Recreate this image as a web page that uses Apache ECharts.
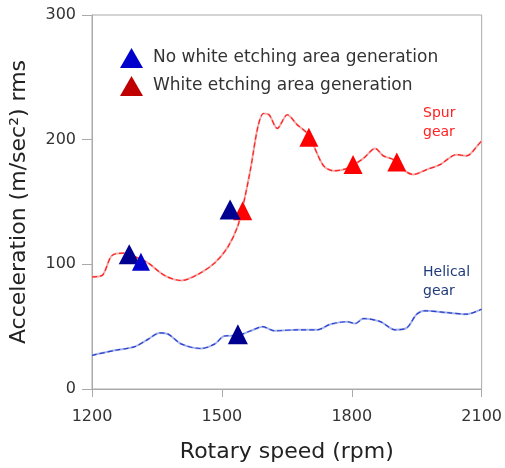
<!DOCTYPE html>
<html><head><meta charset="utf-8">
<script src="https://cdn.jsdelivr.net/npm/echarts@6/dist/echarts.min.js"></script>
<style>html,body{margin:0;padding:0;background:#fff}#c{width:505px;height:468px}</style>
</head><body><div id="c"></div>
<script>
const spurRpm = [1200,1223,1246,1276,1300,1330,1368,1407,1445,1483,1514,1537,1552,1567,1583,1596,1609,1628,1651,1674,1697,1712,1735,1758,1789,1827,1854,1873,1896,1919,1942,1973,2004,2042,2065,2095,2100];
const spurAcc = [90,91,107,109,106,101,91,87,92,101,114,131,152,178,210,221,220,209,220,212,205,195,179,175,177,185,193,187,184,176,172,176,180,188,187,197,199];
const helRpm = [1200,1253,1299,1330,1356,1376,1407,1452,1483,1506,1537,1567,1594,1621,1674,1720,1751,1789,1808,1827,1866,1900,1927,1950,1969,2019,2065,2100];
const helAcc = [27,31,34,40,45,44,36,32.5,36,42.5,43,46.7,50,46.7,47.5,47.5,52,54,52.5,56.5,54,47.5,49,60,62.7,61.3,60,64];
const noWeaRpm = [1286,1313,1519,1537];
const noWeaAcc = [108,102,144,44];
const noWeaColors = ['#000090','#0000cc','#000090','#000090'];
const noWeaSizes = [[21,20],[18,18],[21,20],[20,20]];
const weaRpm = [1548,1701,1803,1904];
const weaAcc = [143,202,180,182];
const legendNames = ['No white etching area generation','White etching area generation'];
const xTicks = [1200,1500,1800,2100];
const yTicks = [0,100,200,300];

const pairs = (xs, ys) => xs.map((x,i)=>[x, ys[i]]);
const chart = echarts.init(document.getElementById('c'), null, {renderer:'canvas'});
const font = 'DejaVu Sans';
chart.setOption({
  animation:false,
  textStyle:{fontFamily:font},
  grid:{left:90,right:23,top:15,bottom:78,show:true,borderColor:'#aaa',borderWidth:1},
  legend:{
    orient:'vertical', left:115, top:43, itemGap:8, itemWidth:23, itemHeight:20,
    icon:'triangle',
    textStyle:{fontFamily:font,fontSize:17,color:'#333',padding:[0,0,0,5]},
    data:[{name:legendNames[0],itemStyle:{color:'#0000cc',opacity:1}},{name:legendNames[1],itemStyle:{color:'#c00000',opacity:1}}]
  },
  xAxis:{type:'value',min:xTicks[0],max:xTicks[xTicks.length-1],interval:300,
    name:'Rotary speed (rpm)',nameLocation:'middle',nameGap:52,
    nameTextStyle:{fontFamily:font,fontSize:22,color:'#222'},
    axisLine:{lineStyle:{color:'#aaa'}},axisTick:{show:true,length:8,lineStyle:{color:'#aaa'}},
    axisLabel:{fontFamily:font,fontSize:16,color:'#333',margin:20,formatter:v=>String(v)},
    splitLine:{show:false}},
  yAxis:{type:'value',min:yTicks[0],max:yTicks[yTicks.length-1],interval:100,
    name:'Acceleration (m/sec\u00b2) rms',nameLocation:'middle',nameGap:62,
    nameTextStyle:{fontFamily:font,fontSize:22,color:'#222'},
    axisLine:{show:true,lineStyle:{color:'#aaa'}},axisTick:{show:true,length:10,lineStyle:{color:'#aaa'}},
    axisLabel:{fontFamily:font,fontSize:16,color:'#333',margin:16,formatter:v=>String(v)},
    splitLine:{show:false}},
  series:[
    {type:'line',data:pairs(spurRpm,spurAcc),smooth:0.3,symbol:'none',lineStyle:{color:'#f4a9a9',width:2},z:2,silent:true},
    {type:'line',data:pairs(spurRpm,spurAcc),smooth:0.3,symbol:'none',lineStyle:{color:'#ff2020',width:1.2,type:[5,3]},z:3,silent:true},
    {type:'line',data:pairs(helRpm,helAcc),smooth:0.3,symbol:'none',lineStyle:{color:'#a8b4e8',width:2},z:2,silent:true},
    {type:'line',data:pairs(helRpm,helAcc),smooth:0.3,symbol:'none',lineStyle:{color:'#2a40d0',width:1.2,type:[5,3]},z:3,silent:true},
    {name:legendNames[0],type:'scatter',symbol:'triangle',z:5,
      data:noWeaRpm.map((x,i)=>({value:[x,noWeaAcc[i]],symbolSize:noWeaSizes[i],itemStyle:{color:noWeaColors[i],opacity:1}})),
      itemStyle:{color:'#0000cc',opacity:1}},
    {name:legendNames[1],type:'scatter',symbol:'triangle',symbolSize:[19,19],z:4,
      data:pairs(weaRpm,weaAcc),itemStyle:{color:'#ff0000',opacity:1}}
  ],
  graphic:[
    {type:'rect',left:414,top:100,shape:{width:62,height:44},style:{fill:'#fff'},z:10},
    {type:'text',left:423,top:104,z:11,style:{text:'Spur\ngear',fill:'#ff2020',font:'14px "DejaVu Sans"',lineHeight:19}},
    {type:'rect',left:414,top:260,shape:{width:62,height:44},style:{fill:'#fff'},z:10},
    {type:'text',left:423,top:263,z:11,style:{text:'Helical\ngear',fill:'#1f3a7a',font:'14px "DejaVu Sans"',lineHeight:19}}
  ]
});
</script></body></html>
